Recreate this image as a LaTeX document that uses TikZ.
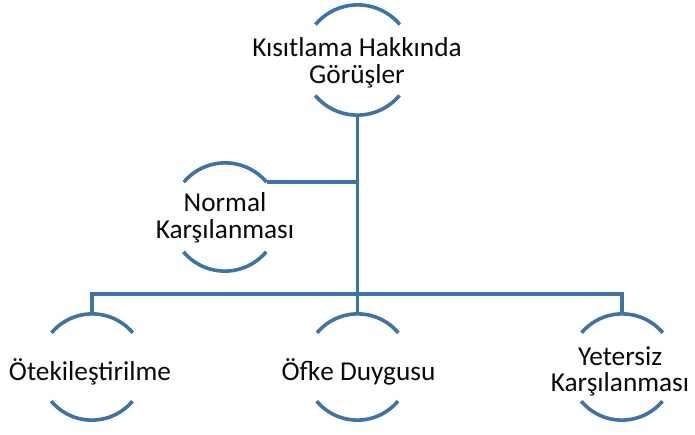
\documentclass[tikz,border=0pt]{standalone}
\usepackage{fontspec}
\setmainfont{Carlito}
\definecolor{lineblue}{RGB}{62,115,168}
\definecolor{txt}{RGB}{10,10,10}
\begin{document}
\begin{tikzpicture}[x=1pt,y=1pt,
  ring/.style={circle,draw=none,inner sep=0pt,minimum size=#1},
  arcline/.style={draw=lineblue,line width=3.6pt},
  conn/.style={draw=lineblue,line width=3.4pt},
  lbl/.style={text=txt,font=\fontsize{27.3}{26.5}\selectfont,align=center,inner sep=0pt}]
\useasboundingbox (0,0) rectangle (695,434);
% rings
\node[ring=110pt] (top) at (357.5,374) {};
\node[ring=108pt] (normal) at (225,217) {};
\node[ring=106pt] (oteki) at (92,67) {};
\node[ring=106pt] (ofke) at (357.5,67) {};
\node[ring=106pt] (yeter) at (622,67) {};
% arcs
\foreach \n/\r in {top/55,normal/54,oteki/53,ofke/53,yeter/53}{
  \draw[arcline] (\n.40) arc[start angle=40,end angle=140,radius=\r];
  \draw[arcline] (\n.220) arc[start angle=220,end angle=320,radius=\r];
}
% connectors
\coordinate (bus) at (0,140);
\draw[conn] (top.south) -- (top.south |- bus);
\draw[conn] (normal.40) -- (normal.40 -| top.south);
\draw[conn] (oteki.north) -- (oteki.north |- bus) -- (yeter.north |- bus) -- (yeter.north);
\draw[conn] (ofke.north) -- (ofke.north |- bus);
% labels
\node[lbl] (toplbl) at (357,371.3) {Kısıtlama Hakkında\\Görüşler};
\node[lbl] (normallbl) at (225,216) {Normal\\Karşılanması};
\node[lbl,anchor=base] (otekilbl) at (90,54) {Ötekileştirilme};
\node[lbl,anchor=base] (ofkelbl) at (358.5,54) {Öfke Duygusu};
\node[lbl] (yeterlbl) at (620,62.7) {Yetersiz\\Karşılanması};
\end{tikzpicture}
\end{document}
